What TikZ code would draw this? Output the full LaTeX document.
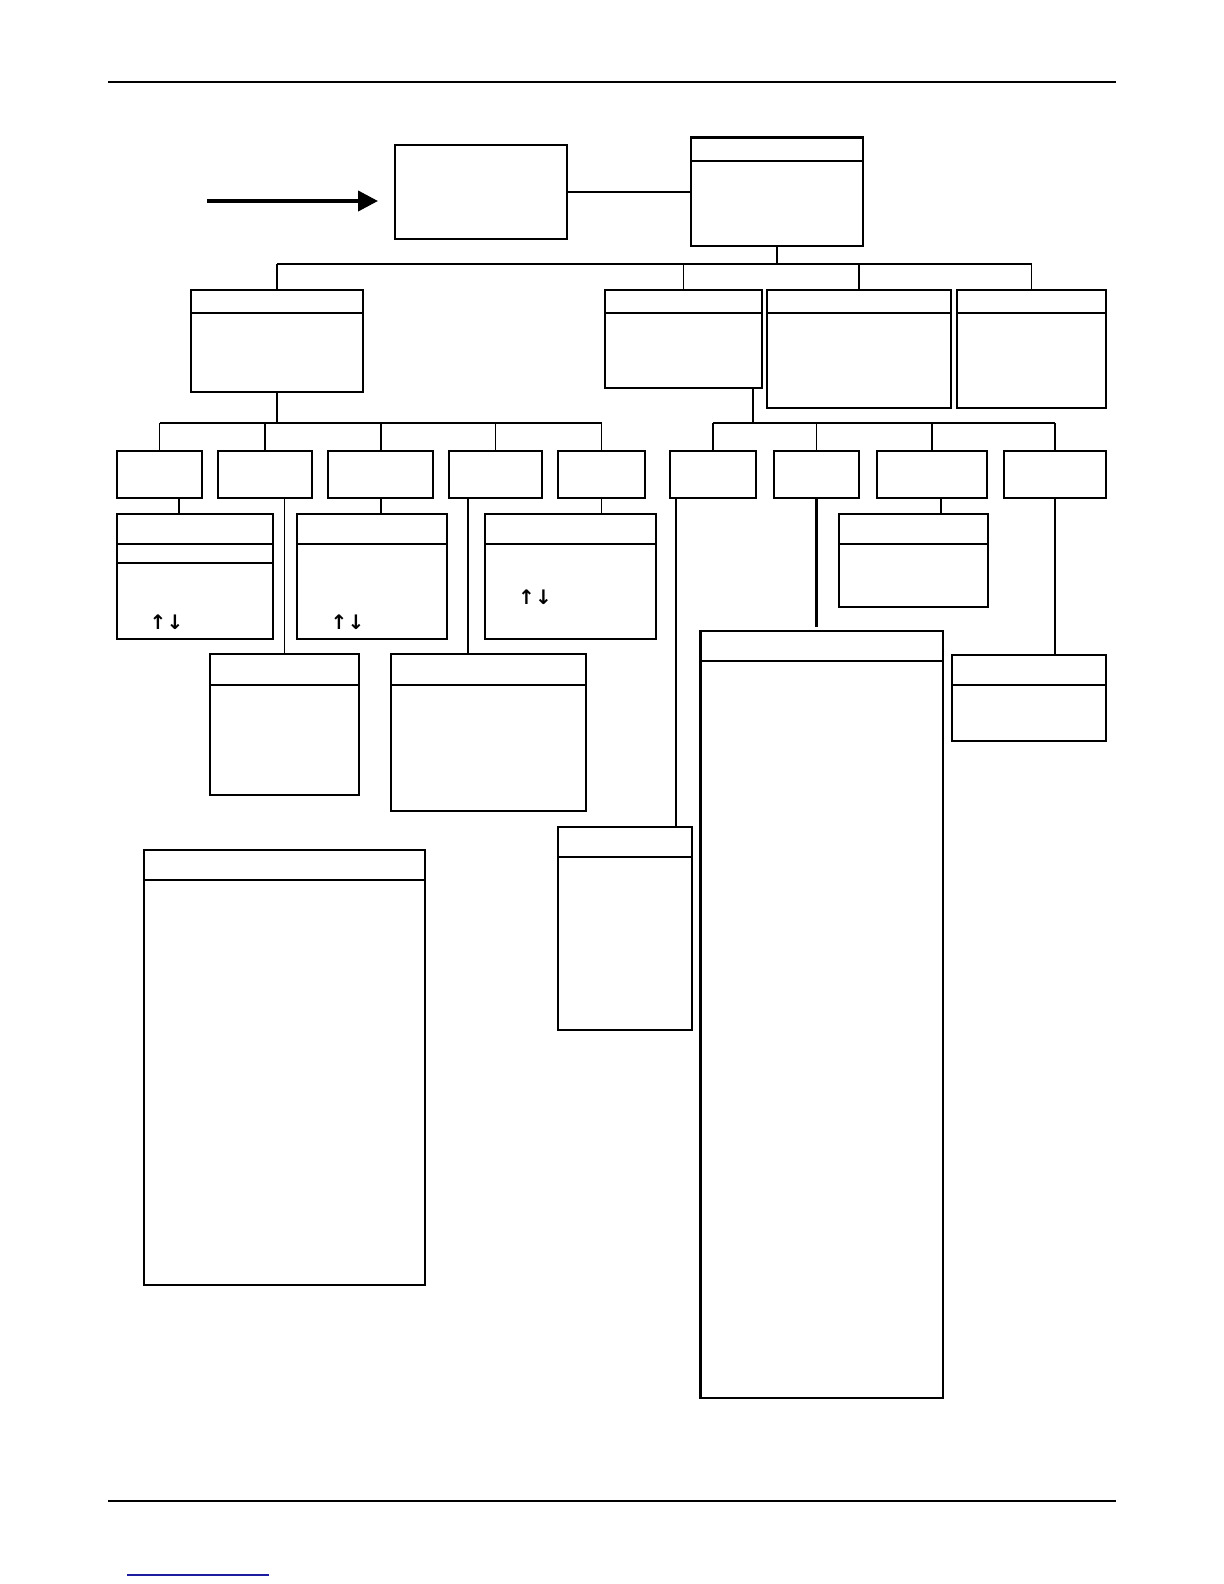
\documentclass[tikz,border=0pt]{standalone}
\usepackage{fontspec}
\newfontfamily\keyfont{DejaVu Sans}
\usetikzlibrary{calc,arrows.meta,fit}
\definecolor{linkBlue}{RGB}{28,28,160}

\tikzset{
  panel/.style={draw,rectangle,inner sep=0pt,line width=.6pt},
  heavy/.style={panel,line width=1pt},
  wire/.style={line width=.6pt},
  boldwire/.style={line width=1pt},
  hdr/.style={line width=1pt},
  keys/.style={inner sep=0pt,font=\keyfont\bfseries\fontsize{10}{10}\selectfont}
}
\newcommand{\header}[3][hdr]{\draw[#1] ($(#2.north west)+(0,#3)$) -- ($(#2.north east)+(0,#3)$);}

\begin{document}
\begin{tikzpicture}[x=0.5pt,y=-0.5pt]
\useasboundingbox (0,0) rectangle (1224,1584);

% page rules
\draw[line width=1pt] (108,82) -- (1116,82);
\draw[line width=1pt] (108,1501) -- (1116,1501);
\draw[linkBlue,line width=.7pt] (127,1575) -- (269,1575);

% top
\node[panel,fit={(395,145) (567,239)}] (entry) {};
\node[panel,fit={(691,138) (863,246)}] (root) {};
\draw[line width=1.4pt] (root.north west) -- (root.north east);
\header{root}{24}
\coordinate (feedTail) at (207,201);
\coordinate (feedTip) at (378,201);
\draw[line width=2pt,-{Triangle[length=10pt,width=10pt]}] (feedTail) -- (feedTip);
\draw[wire] (entry.east) -- (entry.east -| root.west);

% second row
\node[heavy,fit={(191,290) (363,392)}] (grpA) {};
\node[panel,fit={(605,290) (762,388)}] (grpF) {};
\node[heavy,fit={(767,290) (951,408)}] (grpG) {};
\node[heavy,fit={(957,290) (1106,408)}] (grpH) {};
\foreach \g in {grpA,grpF,grpG,grpH} {\header{\g}{24}}

\coordinate (busTop) at (0,264);
\draw[wire] (root.south) -- (root.south |- busTop);
\draw[wire] (grpA.north |- busTop) -- (grpH.north |- busTop);
\foreach \g in {grpA,grpF,grpG,grpH} {\draw[wire] (\g.north) -- (\g.north |- busTop);}

% third row, left
\node[heavy,fit={(117,451) (202,498)}] (b1) {};
\node[heavy,fit={(218,451) (312,498)}] (b2) {};
\node[heavy,fit={(328,451) (433,498)}] (b3) {};
\node[heavy,fit={(449,451) (542,498)}] (b4) {};
\node[heavy,fit={(558,451) (645,498)}] (b5) {};
\coordinate (busA) at (0,423);
\draw[boldwire] (grpA.south) -- (grpA.south |- busA);
\draw[wire] (b1.north |- busA) -- (b5.north |- busA);
\foreach \b in {b1,b2,b4,b5} {\draw[wire] (\b.north) -- (\b.north |- busA);}
\draw[boldwire] (b3.north) -- (b3.north |- busA);

% third row, right
\node[heavy,fit={(670,451) (756,498)}] (r1) {};
\node[heavy,fit={(774,451) (859,498)}] (r2) {};
\node[heavy,fit={(877,451) (987,498)}] (r3) {};
\node[heavy,fit={(1004,451) (1106,498)}] (r4) {};
\coordinate (busF) at (753,423);
\draw[wire] (grpF.south -| busF) -- (busF);
\draw[wire] (r1.north |- busF) -- (r4.north |- busF);
\foreach \r in {r1,r2,r3,r4} {\draw[wire] (\r.north) -- (\r.north |- busF);}

% detail panels
\node[heavy,fit={(117,514) (273,639)}] (c1) {};
\header{c1}{31}
\header[wire]{c1}{50}
\node[heavy,fit={(297,514) (447,639)}] (c2) {};
\header{c2}{31}
\node[heavy,fit={(485,514) (656,639)}] (c3) {};
\header{c3}{31}
\node[panel,fit={(210,654) (359,795)}] (d) {};
\header{d}{32}
\node[panel,fit={(391,654) (586,811)}] (e) {};
\header{e}{32}
\node[panel,fit={(558,827) (692,1030)}] (i) {};
\header{i}{31}
\node[panel,fit={(701,631) (943,1398)}] (j) {};
\draw[line width=1.2pt] (j.north west) -- (j.south west);
\header{j}{31}
\node[panel,fit={(839,514) (988,607)}] (k) {};
\header{k}{31}
\node[heavy,fit={(952,655) (1106,741)}] (l) {};
\header{l}{31}
\node[heavy,fit={(144,850) (425,1285)}] (m) {};
\header{m}{31}

\node[keys] (c1keys) at (166.5,622) {↑↓};
\node[keys] (c2keys) at (347.5,622) {↑↓};
\node[keys] (c3keys) at (535,597) {↑↓};

% links down
\draw[wire] (b1.south -| 179,0) -- (c1.north -| 179,0);
\draw[wire] (b2.south -| d.north) -- (d.north);
\draw[boldwire] (b3.south) -- (b3.south |- c2.north);
\draw[wire] (b4.south -| 468,0) -- (e.north -| 468,0);
\draw[wire] (b5.south) -- (b5.south |- c3.north);
\draw[wire] (r1.south -| 676,0) -- (i.north -| 676,0);
\draw[line width=1.3pt] (r2.south) -- ($(r2.south |- j.north)+(0,-3)$);
\draw[wire] (r3.south -| 941,0) -- (k.north -| 941,0);
\draw[wire] (r4.south) -- (r4.south |- l.north);
\end{tikzpicture}
\end{document}
